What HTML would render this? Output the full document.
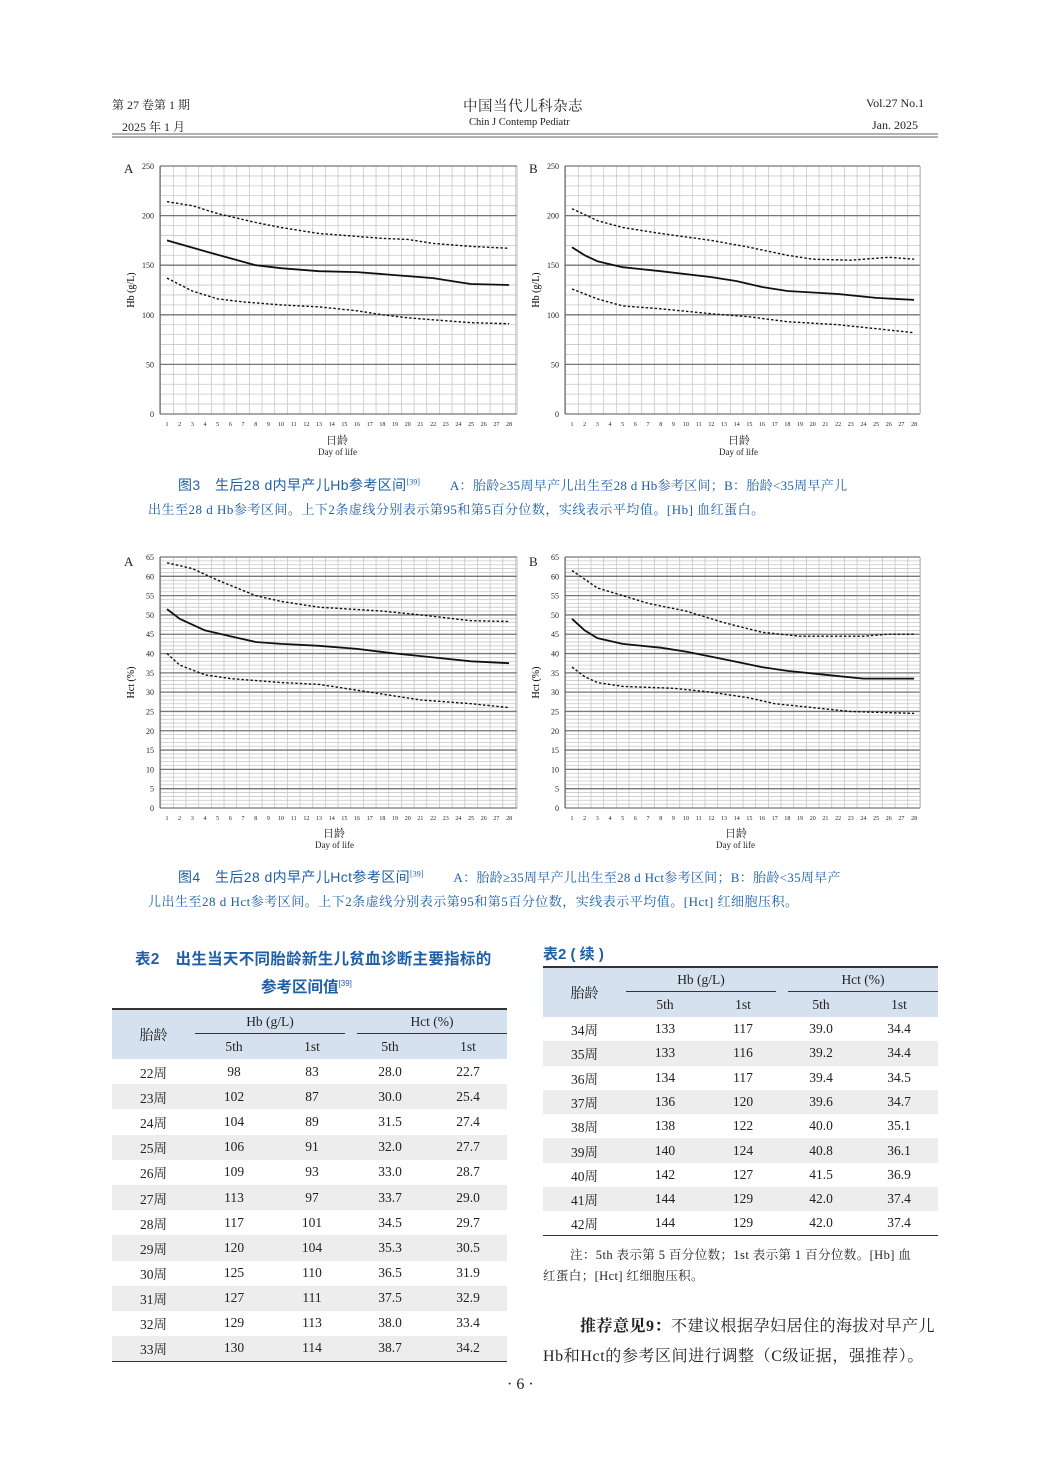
<!DOCTYPE html>
<html><head><meta charset="utf-8">
<style>
body{margin:0;background:#fff;}
#pg{position:relative;width:1050px;height:1473px;overflow:hidden;font-family:"Liberation Serif","Noto Serif CJK SC",serif;color:#222;}
.t{position:absolute;white-space:nowrap;}
.sans{font-family:"Liberation Sans","Noto Sans CJK SC",sans-serif;}
.blue{color:#1e5fa8;}
table{position:absolute;border-collapse:collapse;font-size:13.5px;}
td{text-align:center;padding:0;}
</style></head><body><div id="pg">
<svg id="sv" width="1050" height="1473" style="position:absolute;left:0;top:0"></svg>
<div class="t" style="left:112px;top:96px;font-size:12px">第 27 卷第 1 期</div>
<div class="t" style="left:122px;top:118px;font-size:12px">2025 年 1 月</div>
<div class="t" style="left:463px;top:95px;font-size:14.5px;letter-spacing:0.5px">中国当代儿科杂志</div>
<div class="t" style="left:469px;top:117px;font-size:10.5px">Chin J Contemp Pediatr</div>
<div class="t" style="left:866px;top:96px;font-size:12px">Vol.27 No.1</div>
<div class="t" style="left:872px;top:118px;font-size:12px">Jan. 2025</div>

<div class="t" style="left:124px;top:161px;font-size:13px">A</div>
<div class="t" style="left:529px;top:161px;font-size:13px">B</div>
<div class="t" style="left:124px;top:554px;font-size:13px">A</div>
<div class="t" style="left:529px;top:554px;font-size:13px">B</div>

<div class="t" style="left:326px;top:432px;font-size:11px">日龄</div>
<div class="t" style="left:318px;top:447px;font-size:9px">Day of life</div>
<div class="t" style="left:728px;top:432px;font-size:11px">日龄</div>
<div class="t" style="left:719px;top:447px;font-size:9px">Day of life</div>
<div class="t" style="left:323px;top:825px;font-size:11px">日龄</div>
<div class="t" style="left:315px;top:840px;font-size:9px">Day of life</div>
<div class="t" style="left:725px;top:825px;font-size:11px">日龄</div>
<div class="t" style="left:716px;top:840px;font-size:9px">Day of life</div>

<div class="t blue" style="left:178px;top:475px;font-size:14px"><span class="sans" style="letter-spacing:0.4px">图3　生后28 d内早产儿Hb参考区间</span><sup style="font-size:8px">[39]</sup><span style="font-size:13px;margin-left:30px;letter-spacing:0.3px">A：胎龄≥35周早产儿出生至28 d Hb参考区间；B：胎龄&lt;35周早产儿</span></div>
<div class="t blue" style="left:148px;top:499px;font-size:13px;letter-spacing:0.5px">出生至28 d Hb参考区间。上下2条虚线分别表示第95和第5百分位数，实线表示平均值。[Hb] 血红蛋白。</div>
<div class="t blue" style="left:178px;top:867px;font-size:14px"><span class="sans" style="letter-spacing:0.4px">图4　生后28 d内早产儿Hct参考区间</span><sup style="font-size:8px">[39]</sup><span style="font-size:13px;margin-left:30px;letter-spacing:0.3px">A：胎龄≥35周早产儿出生至28 d Hct参考区间；B：胎龄&lt;35周早产</span></div>
<div class="t blue" style="left:148px;top:891px;font-size:13px;letter-spacing:0.5px">儿出生至28 d Hct参考区间。上下2条虚线分别表示第95和第5百分位数，实线表示平均值。[Hct] 红细胞压积。</div>

<div class="t blue sans" style="left:135px;top:947px;font-size:15.5px;font-weight:bold;letter-spacing:0.3px">表2　出生当天不同胎龄新生儿贫血诊断主要指标的</div>
<div class="t blue sans" style="left:261px;top:975px;font-size:15.5px;font-weight:bold">参考区间值<sup style="font-size:8px;font-weight:normal">[39]</sup></div>
<div class="t blue sans" style="left:543px;top:943px;font-size:15px;font-weight:bold">表2 ( 续 )</div>

<div class="t" style="left:570px;top:1245px;font-size:12.5px;letter-spacing:0.4px">注：5th 表示第 5 百分位数；1st 表示第 1 百分位数。[Hb] 血</div>
<div class="t" style="left:543px;top:1266px;font-size:12.5px;letter-spacing:0.4px">红蛋白；[Hct] 红细胞压积。</div>
<div class="t" style="left:580px;top:1313px;font-size:16px;letter-spacing:0.5px"><b>推荐意见9：</b>不建议根据孕妇居住的海拔对早产儿</div>
<div class="t" style="left:543px;top:1343px;font-size:16px;letter-spacing:0.6px">Hb和Hct的参考区间进行调整（C级证据，强推荐）。</div>
<div class="t" style="left:507px;top:1376px;font-size:16px">· 6 ·</div>
<div id="tabs"></div>
</div>
<script>
var s='';
function L(x1,y1,x2,y2,c,w,d){s+='<line x1="'+x1+'" y1="'+y1+'" x2="'+x2+'" y2="'+y2+'" stroke="'+c+'" stroke-width="'+w+'"'+(d?' stroke-dasharray="'+d+'"':'')+'/>';}
function T(x,y,t,sz,a,extra){s+='<text x="'+x+'" y="'+y+'" font-size="'+sz+'" text-anchor="'+(a||'middle')+'" font-family="Liberation Serif,serif" fill="#222" '+(extra||'')+'>'+t+'</text>';}
L(112,134,938,134,'#666',1);L(112,137,938,137,'#666',1);
function chart(x0,x1,top,bot,max,maj,min,ylab,curves){
  var h=bot-top;
  for(var v=0;v<=max;v+=min){var y=bot-v/max*h;L(x0,y,x1,y,'#c8c8c8',0.8);}
  var dx=12.67, d1=x0+7;
  for(var k=0;k<=28;k++){var x=d1-dx/2+k*dx;L(x,top,x,bot,'#c8c8c8',0.8);}
  for(var v=0;v<=max;v+=maj){var y=bot-v/max*h;L(x0,y,x1,y,'#777',1.3);T(x0-6,y+3,v,8,'end');}
  L(x0,top,x0,bot,'#555',1);L(x1,top,x1,bot,'#aaa',0.8);
  for(var d=1;d<=28;d++)T(d1+(d-1)*dx,bot+12,d,6);
  s+='<text transform="translate('+(x0-26)+','+((top+bot)/2)+') rotate(-90)" font-size="10" text-anchor="middle" font-family="Liberation Serif,serif">'+ylab+'</text>';
  curves.forEach(function(c,i){
    var p=c.map(function(q){return (d1+(q[0]-1)*dx).toFixed(1)+','+(bot-q[1]/max*h).toFixed(1);});
    s+='<polyline points="'+p.join(' ')+'" fill="none" stroke="#111" stroke-width="'+(i==1?1.8:1.4)+'"'+(i!=1?' stroke-dasharray="2.5 2"':'')+' stroke-linejoin="round"/>';
  });
}
chart(160,517,166,414,250,50,10,'Hb (g/L)',[
 [[1,214],[3,210],[5,202],[8,193],[10,188],[13,182],[15,180],[18,177],[20,176],[22,172],[25,169],[28,167]],
 [[1,175],[4,164],[6,157],[8,150],[10,147],[13,144],[16,143],[18,141],[20,139],[22,137],[24,133],[25,131],[28,130]],
 [[1,137],[3,124],[5,116],[7,113],[10,110],[13,108],[16,104],[18,100],[20,97],[22,95],[25,92],[28,91]]]);
chart(565,920,166,414,250,50,10,'Hb (g/L)',[
 [[1,207],[3,195],[5,188],[8,182],[12,175],[15,168],[18,160],[20,156],[23,155],[26,158],[28,156]],
 [[1,168],[2,160],[3,154],[5,148],[8,144],[12,138],[14,134],[16,128],[18,124],[22,121],[25,117],[28,115]],
 [[1,126],[3,116],[5,109],[8,106],[12,101],[15,98],[18,93],[22,90],[25,86],[28,82]]]);
chart(160,517,557,808,65,5,1,'Hct (%)',[
 [[1,63.5],[3,62],[5,59],[8,55],[10,53.5],[13,52],[18,51],[21,50],[25,48.5],[28,48.3]],
 [[1,51.5],[2,49],[4,46],[6,44.5],[8,43],[10,42.5],[13,42],[16,41.2],[19,40],[22,39],[25,38],[28,37.5]],
 [[1,40],[2,37],[4,34.5],[6,33.5],[10,32.5],[13,32],[16,30.5],[18,29.5],[21,28],[25,27],[28,26]]]);
chart(565,920,557,808,65,5,1,'Hct (%)',[
 [[1,61.5],[3,57],[5,55],[7,53],[10,51],[13,48],[16,45.5],[19,44.5],[24,44.5],[26,45],[28,45]],
 [[1,49],[2,46],[3,44],[5,42.5],[8,41.5],[10,40.5],[13,38.5],[16,36.5],[18,35.5],[21,34.5],[24,33.5],[28,33.5]],
 [[1,36.5],[2,34],[3,32.5],[5,31.5],[9,31],[12,30],[15,28.5],[17,27],[20,26],[23,25],[28,24.5]]]);
document.getElementById('sv').innerHTML=s;

function tab(left,top,hh,rh,rows,shadeOdd){
  var h='<table style="left:'+left+'px;top:'+top+'px;width:395px">';
  h+='<tr style="background:#d6e1ef;height:'+(hh/2)+'px;border-top:2px solid #333"><td rowspan="2" style="width:83px;font-size:14px">胎龄</td><td colspan="2"><div style="border-bottom:1px solid #333;margin:0 6px 0 0;padding:3px 0">Hb (g/L)</div></td><td colspan="2"><div style="border-bottom:1px solid #333;margin:0 0 0 6px;padding:3px 0">Hct (%)</div></td></tr>';
  h+='<tr style="background:#d6e1ef;height:'+(hh/2)+'px"><td style="width:78px">5th</td><td style="width:78px">1st</td><td style="width:78px">5th</td><td>1st</td></tr>';
  rows.forEach(function(r,i){h+='<tr style="height:'+rh+'px;background:'+((i%2==1)?'#ededed':'#fff')+'"><td>'+r[0]+'周</td><td>'+r[1]+'</td><td>'+r[2]+'</td><td>'+r[3]+'</td><td>'+r[4]+'</td></tr>';});
  h+='</table>';return h;
}
var r1=[[22,98,83,'28.0','22.7'],[23,102,87,'30.0','25.4'],[24,104,89,'31.5','27.4'],[25,106,91,'32.0','27.7'],[26,109,93,'33.0','28.7'],[27,113,97,'33.7','29.0'],[28,117,101,'34.5','29.7'],[29,120,104,'35.3','30.5'],[30,125,110,'36.5','31.9'],[31,127,111,'37.5','32.9'],[32,129,113,'38.0','33.4'],[33,130,114,'38.7','34.2']];
var r2=[[34,133,117,'39.0','34.4'],[35,133,116,'39.2','34.4'],[36,134,117,'39.4','34.5'],[37,136,120,'39.6','34.7'],[38,138,122,'40.0','35.1'],[39,140,124,'40.8','36.1'],[40,142,127,'41.5','36.9'],[41,144,129,'42.0','37.4'],[42,144,129,'42.0','37.4']];
document.getElementById('tabs').innerHTML=tab(112,1008,50,25.2,r1)+tab(543,966,50,24.3,r2);
</script>
<style>table tr:last-child{border-bottom:1.5px solid #333;}</style>
</body></html>
